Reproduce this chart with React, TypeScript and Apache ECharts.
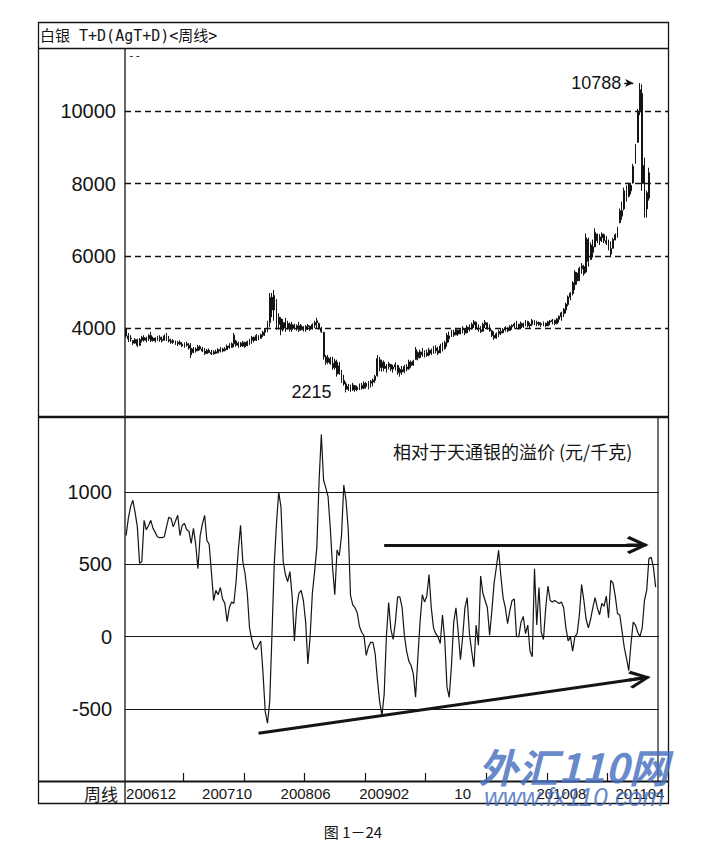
import React, { useEffect, useRef } from "react";
import * as echarts from "echarts";

// ---- categories (weeks) ----
const WEEK_COUNT = 242;
const weekIds: string[] = Array.from({ length: WEEK_COUNT }, (_, i) => `W${i + 1}`);

// tick labels on the week axis (index -> text)
const monthLabels: Record<number, string> = {
  0: "200612",
  45: "200710",
  80: "200806",
  115: "200902",
  150: "10",
  194: "201008",
  229: "201104",
};
const TICK_EVERY = 27;
const TICK_PHASE = 26;

// y tick labels
const priceTicks = [4000, 6000, 8000, 10000];
const premiumTicks = [-500, 0, 500, 1000];

// ---- weekly candles [open, close, low, high] ----
const candles: number[][] = [
  [3980,3780,3720,4010],[3780,3700,3610,3860],[3700,3720,3620,3800],[3650,3580,3530,3670],[3580,3680,3560,3720],
  [3680,3520,3470,3700],[3520,3680,3500,3720],[3660,3740,3600,3780],[3740,3660,3620,3800],[3660,3720,3600,3760],
  [3700,3790,3640,3830],[3790,3650,3610,3890],[3650,3720,3620,3760],[3720,3640,3600,3740],[3650,3740,3640,3780],
  [3740,3680,3620,3800],[3680,3640,3600,3760],[3660,3780,3650,3820],[3780,3680,3640,3860],[3680,3640,3600,3780],
  [3640,3600,3560,3700],[3600,3650,3560,3690],[3640,3560,3530,3650],[3560,3600,3500,3640],[3600,3550,3520,3660],
  [3550,3500,3470,3610],[3500,3560,3450,3600],[3560,3520,3480,3620],[3520,3440,3400,3580],[3440,3260,3170,3580],
  [3320,3420,3300,3470],[3420,3360,3320,3460],[3370,3480,3360,3530],[3480,3420,3380,3520],[3420,3360,3330,3470],
  [3360,3290,3250,3440],[3290,3380,3280,3420],[3380,3320,3300,3430],[3320,3280,3250,3390],[3280,3340,3260,3380],
  [3340,3300,3280,3400],[3310,3400,3300,3440],[3400,3360,3320,3470],[3360,3420,3330,3450],[3420,3380,3350,3470],
  [3400,3500,3390,3540],[3500,3460,3420,3580],[3460,3560,3450,3600],[3560,3800,3470,3860],[3640,3520,3480,3670],
  [3520,3580,3450,3620],[3580,3500,3470,3610],[3500,3600,3480,3640],[3600,3480,3450,3620],[3510,3620,3500,3650],
  [3600,3660,3530,3700],[3660,3740,3560,3780],[3740,3650,3600,3760],[3660,3790,3640,3830],[3780,3700,3660,3800],
  [3710,3810,3700,3840],[3800,3880,3750,3920],[3880,3960,3780,4000],[3950,4150,3880,4200],[4150,4850,4030,4970],
  [4850,4500,4300,4970],[4500,4900,4200,5050],[4700,4100,3950,4800],[4100,4300,3950,4410],[4250,3950,3800,4300],
  [3950,4150,3900,4250],[4150,4000,3890,4280],[4000,4120,3950,4200],[4100,3960,3900,4150],[3960,4100,3890,4170],
  [4080,3990,3950,4120],[3990,4060,3920,4100],[4060,3940,3890,4170],[3950,4070,3920,4110],[4030,3950,3900,4050],
  [3950,4040,3890,4080],[4030,4070,3950,4110],[4050,3960,3920,4060],[3970,4090,3960,4130],[4080,4150,4000,4200],
  [4150,4200,4000,4280],[4120,3990,3950,4150],[3990,3900,3860,4030],[3880,3200,3120,3890],[3200,3050,2980,3250],
  [3050,3180,3000,3250],[3150,3020,2980,3200],[3020,2900,2840,3200],[2900,3080,2850,3150],[3050,2720,2650,3120],
  [2740,2950,2700,3050],[2800,2550,2480,2840],[2550,2450,2400,2700],[2450,2300,2215,2510],[2300,2380,2250,2450],
  [2380,2280,2230,2430],[2280,2420,2260,2480],[2400,2290,2230,2420],[2290,2360,2250,2400],[2350,2410,2280,2460],
  [2410,2330,2290,2480],[2330,2470,2300,2520],[2460,2380,2320,2500],[2380,2480,2300,2530],[2470,2520,2350,2560],
  [2500,2560,2380,2600],[2550,2660,2480,2700],[2680,3150,2650,3250],[3120,2900,2800,3200],[2900,3050,2790,3120],
  [3050,2880,2800,3100],[2880,2940,2760,3000],[2930,3010,2850,3060],[2990,2860,2800,3000],[2860,2920,2760,2980],
  [2920,2990,2820,3050],[2960,2760,2700,2980],[2760,2850,2650,2900],[2840,2780,2700,2950],[2790,2930,2750,2980],
  [2920,2860,2800,3000],[2870,3060,2840,3120],[3050,2960,2900,3100],[2970,3080,2950,3120],[3130,3400,3120,3470],
  [3320,3180,3100,3350],[3180,3340,3150,3400],[3330,3260,3200,3450],[3260,3320,3180,3380],[3310,3240,3200,3400],
  [3250,3390,3220,3450],[3380,3300,3250,3430],[3300,3450,3280,3500],[3440,3370,3300,3520],[3370,3300,3250,3480],
  [3310,3500,3300,3560],[3490,3420,3350,3600],[3430,3590,3400,3650],[3590,3800,3480,3860],[3780,3700,3600,3900],
  [3760,3900,3750,3950],[3880,3800,3750,3950],[3810,3950,3800,4000],[3940,3830,3780,3960],[3840,3960,3820,4000],
  [3950,4000,3850,4050],[3980,3860,3800,4000],[3870,4030,3850,4080],[4020,3960,3900,4100],[3970,4100,3950,4150],
  [4090,4170,4000,4220],[4160,4000,3950,4180],[4000,3950,3900,4100],[3950,3900,3860,4050],[3910,4100,3900,4150],
  [4090,4160,4000,4220],[4140,3990,3950,4150],[3990,3920,3900,4100],[3920,3790,3750,3950],[3790,3720,3670,3900],
  [3720,3840,3700,3880],[3840,3900,3750,3950],[3900,3860,3800,3980],[3870,3960,3850,4000],[3950,4010,3900,4050],
  [4000,3920,3880,4020],[3930,4040,3920,4080],[4030,4070,3950,4100],[4060,4110,3980,4150],[4110,4160,4000,4200],
  [4100,3990,3950,4120],[4000,4130,3980,4180],[4120,4050,4000,4150],[4060,4190,4050,4220],[4180,4060,4020,4200],
  [4060,4100,4000,4150],[4100,4210,4050,4250],[4200,4120,4080,4220],[4120,4150,4050,4200],[4150,4090,4060,4180],
  [4090,4120,4030,4160],[4120,4140,4050,4180],[4130,4060,4020,4150],[4060,4170,4050,4200],[4160,4190,4080,4220],
  [4180,4220,4100,4250],[4210,4120,4080,4230],[4120,4250,4100,4280],[4240,4320,4150,4350],[4310,4420,4200,4450],
  [4400,4520,4300,4550],[4500,4660,4400,4700],[4650,4860,4600,4900],[4850,4960,4770,5000],[4950,5250,4900,5300],
  [5200,5550,5050,5600],[5520,5300,5200,5550],[5310,5650,5300,5700],[5640,5720,5500,5800],[5700,5500,5450,5750],
  [5550,6500,5520,6620],[6450,5850,5700,6500],[5900,6300,5880,6370],[6250,6100,5950,6450],[6250,6650,6240,6760],
  [6600,6420,6350,6620],[6420,6520,6300,6600],[6500,6600,6380,6650],[6580,6420,6350,6620],[6420,6350,6300,6550],
  [6350,6200,6150,6450],[6200,6050,5960,6400],[6210,6450,6200,6500],[6440,6580,6430,6620],[6580,6760,6500,6800],
  [6920,7250,6900,7310],[7250,7100,7000,7500],[7300,7800,7260,7890],[7800,7650,7500,7950],[7650,7980,7620,8030],
  [7950,7800,7700,8000],[8020,8480,8000,8550],[8560,9050,8550,9100],[9150,9980,9130,10070],[9990,10600,9900,10788],
  [10500,8000,7800,10750],[8000,8500,7060,8720],[7750,7300,7060,7810],[7600,8300,7530,8440],
];

// ---- premium over Tianjin silver (yuan/kg), weekly ----
const premium: number[] = [
  700, 820, 900, 944, 860, 760, 507, 520, 805, 740,
  770, 805, 750, 720, 690, 685, 685, 690, 760, 826,
  820, 760, 800, 840, 700, 770, 784, 740, 730, 645,
  750, 640, 470, 700, 780, 840, 666, 640, 450, 250,
  320, 290, 340, 260, 230, 104, 200, 240, 229, 380,
  600, 770, 520, 437, 300, 60, -20, -76, -90, -60,
  -30, -250, -520, -600, -450, 15, 500, 780, 1000, 900,
  520, 430, 380, 450, 280, -30, 200, 300, 320, 250,
  104, -190, 0, 300, 450, 618, 1080, 1400, 1083, 1030,
  970, 750, 480, 290, 600, 560, 700, 1050, 944, 740,
  285, 220, 200, 165, 70, 30, 6, -130, -70, -40,
  -40, -120, -300, -450, -550, -400, 0, 236, 50, -20,
  100, 275, 275, 200, 10, -100, -170, -200, -260, -420,
  -150, 100, 290, 240, 280, 430, 200, 60, 20, 0,
  -48, 150, -20, -350, -420, -200, 100, 200, 30, -160,
  0, 200, 270, 20, -100, -210, 80, -60, 420, 300,
  250, 200, 10, 180, 370, 480, 597, 420, 270, 200,
  90, 180, 250, 260, 0, 0, 100, 140, 20, 80,
  -100, -140, 470, 80, 340, 30, -20, 200, 350, 250,
  240, 250, 240, 230, 240, 200, 60, -30, 0, -100,
  0, 20, 150, 360, 250, 120, 60, 120, 200, 270,
  200, 150, 230, 210, 280, 130, 390, 370, 280, 160,
  150, 40, -74, -150, -236, -50, 100, 80, 30, 0,
  60, 250, 320, 540, 550, 481, 343,
];

const PEAK = { index: 229, value: 10788 };
const LOW = { index: 98, value: 2215 };
const peakArrow = [[222, 10788], [226, 10788]];
const flatArrow = [[115, 634], [228, 634]];
const risingArrow = [[59, -670], [229, -290]];

const CHEVRON =
  "path://M5,0 L10,8.8 L8.7,10 L5,3.2 L1.3,10 L0,8.8 Z M4.2,1 L5.8,1 L5.8,10 L4.2,10 Z";

const INK = "#141414";
const NUM_FONT = "'Liberation Sans', Arial, sans-serif";
const CJK_FONT = "'Noto Sans CJK SC', sans-serif";

export default function App() {
  const ref = useRef<HTMLDivElement>(null);

  useEffect(() => {
    if (!ref.current) return;
    const chart = echarts.init(ref.current, undefined, { renderer: "svg" });

    const priceSplitColors = Array.from({ length: 7 }, (_, k) =>
      priceTicks.includes(k * 2000) ? INK : "rgba(0,0,0,0)"
    );
    const premiumSplitColors = Array.from({ length: 6 }, (_, k) =>
      premiumTicks.includes(-1000 + k * 500) ? INK : "rgba(0,0,0,0)"
    );

    const line = (x1: number, y1: number, x2: number, y2: number, w = 1.3) => ({
      type: "line",
      z: 100,
      silent: true,
      shape: { x1, y1, x2, y2 },
      style: { stroke: INK, lineWidth: w },
    });

    const option: any = {
      animation: false,
      backgroundColor: "#fff",
      textStyle: { fontFamily: NUM_FONT },
      grid: [
        { left: 125, width: 543, top: 39.3, height: 433, outerBoundsMode: "none", containLabel: false },
        { left: 125, width: 543, top: 420, height: 361, outerBoundsMode: "none", containLabel: false },
      ],
      xAxis: [
        { type: "category", gridIndex: 0, data: weekIds, show: false },
        {
          type: "category",
          gridIndex: 1,
          position: "bottom",
          data: weekIds,
          axisLine: { show: false, onZero: false },
          axisTick: {
            show: true,
            inside: true,
            length: 8,
            interval: (i: number) => i % TICK_EVERY === TICK_PHASE,
            lineStyle: { color: INK, width: 1.2 },
          },
          axisLabel: {
            show: true,
            interval: (i: number) => monthLabels[i] !== undefined,
            formatter: (_v: string, i: number) => {
              const t = monthLabels[i];
              if (t === undefined) return "";
              return i === 0 ? `{first|${t}}` : t;
            },
            margin: 5,
            fontSize: 15,
            fontFamily: NUM_FONT,
            color: INK,
            rich: {
              first: { padding: [0, 0, 0, 50], fontSize: 15, fontFamily: NUM_FONT, color: INK },
            },
          },
          splitLine: { show: false },
        },
      ],
      yAxis: [
        {
          type: "value",
          gridIndex: 0,
          min: 0,
          max: 12000,
          interval: 2000,
          axisLine: { show: false },
          axisTick: { show: false },
          axisLabel: {
            margin: 9,
            fontSize: 20,
            fontFamily: NUM_FONT,
            color: INK,
            formatter: (v: number) => (priceTicks.includes(v) ? String(v) : ""),
          },
          splitLine: {
            show: true,
            lineStyle: { color: priceSplitColors, type: [6, 4], width: 1.4 },
          },
        },
        {
          type: "value",
          gridIndex: 1,
          min: -1000,
          max: 1500,
          interval: 500,
          axisLine: { show: false },
          axisTick: { show: false },
          axisLabel: {
            margin: 13,
            fontSize: 20,
            fontFamily: NUM_FONT,
            color: INK,
            formatter: (v: number) => (premiumTicks.includes(v) ? String(v) : ""),
          },
          splitLine: {
            show: true,
            lineStyle: { color: premiumSplitColors, type: "solid", width: 1.2 },
          },
        },
      ],
      series: [
        {
          type: "candlestick",
          xAxisIndex: 0,
          yAxisIndex: 0,
          data: candles,
          barWidth: 1.4,
          itemStyle: {
            color: INK,
            color0: INK,
            borderColor: INK,
            borderColor0: INK,
            borderWidth: 1,
          },
          markPoint: {
            silent: true,
            symbol: "circle",
            symbolSize: 1,
            itemStyle: { color: "rgba(0,0,0,0)" },
            label: {
              show: true,
              position: "left",
              distance: 14,
              formatter: String(LOW.value),
              fontSize: 18,
              fontFamily: NUM_FONT,
              color: INK,
            },
            data: [{ coord: [LOW.index, LOW.value] }],
          },
          markLine: {
            silent: true,
            symbol: ["none", "arrow"],
            symbolSize: [6, 8],
            lineStyle: { color: INK, width: 1.4, type: "solid" },
            label: {
              show: true,
              position: "start",
              distance: 3,
              formatter: String(PEAK.value),
              fontSize: 18,
              fontFamily: NUM_FONT,
              color: INK,
            },
            data: [[{ coord: peakArrow[0] }, { coord: peakArrow[1] }]],
          },
        },
        {
          type: "line",
          xAxisIndex: 1,
          yAxisIndex: 1,
          data: premium,
          showSymbol: false,
          symbol: "none",
          lineStyle: { color: INK, width: 1.2 },
          markLine: {
            silent: true,
            symbol: ["none", CHEVRON],
            symbolSize: [18, 22],
            lineStyle: { color: INK, width: 3, type: "solid" },
            itemStyle: { color: INK },
            label: { show: false },
            data: [
              [{ coord: flatArrow[0] }, { coord: flatArrow[1] }],
              [{ coord: risingArrow[0] }, { coord: risingArrow[1] }],
            ],
          },
        },
      ],
      graphic: [
        {
          type: "rect",
          z: 90,
          silent: true,
          shape: { x: 659, y: 418.5, width: 9, height: 362 },
          style: { fill: "#fff" },
        },
        {
          type: "rect",
          z: 100,
          silent: true,
          shape: { x: 38.5, y: 22.5, width: 630, height: 781 },
          style: { fill: "none", stroke: INK, lineWidth: 1.3 },
        },
        line(38.5, 48.5, 668.5, 48.5),
        line(125, 48.5, 125, 803.5),
        line(38.5, 417, 668.5, 417, 2.6),
        line(38.5, 781.5, 668.5, 781.5, 2),
        line(658, 417, 658, 781, 1.2),
        {
          type: "text",
          z: 100,
          silent: true,
          x: 40,
          y: 35.5,
          style: {
            text: "白银 T+D(AgT+D)<周线>",
            fontSize: 15,
            fontFamily: "'DejaVu Sans Mono', 'Noto Sans CJK SC', monospace",
            fill: INK,
            align: "left",
            verticalAlign: "middle",
          },
        },
        {
          type: "text",
          z: 100,
          silent: true,
          x: 128,
          y: 55,
          style: {
            text: "--",
            fontSize: 11,
            fontFamily: "'DejaVu Sans Mono', monospace",
            fill: INK,
            align: "left",
            verticalAlign: "middle",
          },
        },
        {
          type: "text",
          z: 100,
          silent: true,
          x: 393,
          y: 451,
          style: {
            text: "相对于天通银的溢价 (元/千克)",
            fontSize: 18,
            fontFamily: CJK_FONT,
            fill: INK,
            align: "left",
            verticalAlign: "middle",
          },
        },
        {
          type: "text",
          z: 100,
          silent: true,
          x: 118,
          y: 793,
          style: {
            text: "周线",
            fontSize: 17,
            fontFamily: CJK_FONT,
            fill: INK,
            align: "right",
            verticalAlign: "middle",
          },
        },
        {
          type: "text",
          z: 100,
          silent: true,
          x: 353,
          y: 831,
          style: {
            text: "图 1－24",
            fontSize: 15,
            fontFamily: CJK_FONT,
            fill: INK,
            align: "center",
            verticalAlign: "middle",
          },
        },
        {
          type: "text",
          z: 110,
          silent: true,
          x: 478,
          y: 766,
          style: {
            text: "外汇110网",
            fontSize: 40,
            fontWeight: "bold",
            fontStyle: "italic",
            fontFamily: CJK_FONT,
            fill: "rgba(70,110,190,0.82)",
            align: "left",
            verticalAlign: "middle",
          },
        },
        {
          type: "text",
          z: 110,
          silent: true,
          x: 484,
          y: 797,
          style: {
            text: "www.fx110.com",
            fontSize: 26,
            fontStyle: "italic",
            fontFamily: NUM_FONT,
            fill: "rgba(70,110,190,0.82)",
            align: "left",
            verticalAlign: "middle",
          },
        },
      ],
    };

    chart.setOption(option);
    return () => chart.dispose();
  }, []);

  return (
    <div
      ref={ref}
      style={{ position: "absolute", left: 0, top: 0, width: 724, height: 860, background: "#fff" }}
    />
  );
}
